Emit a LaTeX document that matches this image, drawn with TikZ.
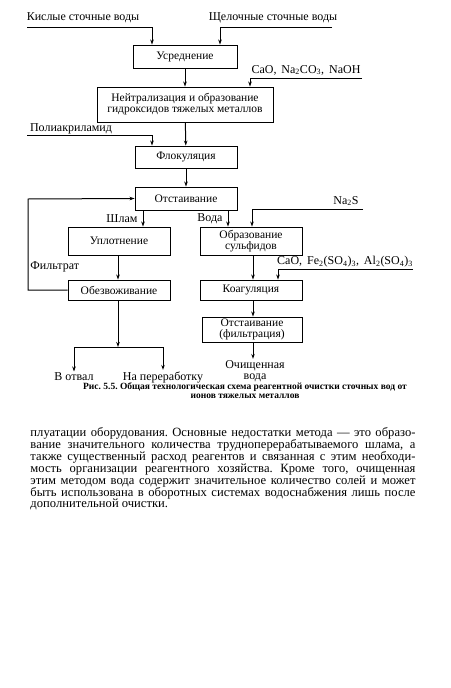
\documentclass[tikz,border=0pt]{standalone}
\usepackage{fontspec}
\setmainfont{Liberation Serif}
\usetikzlibrary{arrows.meta,positioning}
\frenchspacing

\begin{document}
\begin{tikzpicture}[x=1pt, y=-1pt, >={Stealth[length=5pt,width=3.5pt]}, line width=1pt]
    % Define styles
    \tikzstyle{stage} = [rectangle, draw=black, line width=0.9pt, inner sep=1pt, align=center, font=\fontsize{11.5}{11}\selectfont]
    \tikzstyle{feed} = [inner sep=1pt, font=\fontsize{12}{12}\selectfont]
    \tikzstyle{tag} = [inner sep=1pt, align=center, font=\fontsize{12}{11}\selectfont]

    \useasboundingbox (0,0) rectangle (450,688);

    % Nodes
    \node[stage, minimum width=104pt, minimum height=23pt] (usr) at (185,56.5) {Усреднение};
    \node[stage, minimum width=176pt, minimum height=35pt] (neutr) at (185,104.5) {Нейтрализация и образование\\гидроксидов тяжелых металлов};
    \node[stage, minimum width=102pt, minimum height=22pt] (floc) at (186,157) {Флокуляция};
    \node[stage, minimum width=102pt, minimum height=23pt] (otst) at (186,198.5) {Отстаивание};
    \node[stage, minimum width=102pt, minimum height=28pt] (uplot) at (119,241) {Уплотнение};
    \node[stage, minimum width=102pt, minimum height=28pt] (sulf) at (251,241) {Образование\\сульфидов};
    \node[stage, minimum width=102pt, minimum height=20pt] (obezv) at (119,290) {Обезвоживание};
    \node[stage, minimum width=102pt, minimum height=20pt] (koag) at (251,290) {Коагуляция};
    \node[stage, minimum width=100pt, minimum height=25pt] (otstf) at (252,329.5) {Отстаивание\\(фильтрация)};

    % Feed labels
    \node[feed] (acid) at (83,18) {Кислые сточные воды};
    \node[feed] (alkali) at (273,18) {Щелочные сточные воды};
    \node[feed] (reag) at (306,70) {CaO,\, Na\textsubscript{2}CO\textsubscript{3},\, NaOH};
    \node[feed] (paa) at (71,129) {Полиакриламид};
    \node[feed] (nas) at (346,201) {Na\textsubscript{2}S};
    \node[feed] (coag) at (345,262) {CaO,\, Fe\textsubscript{2}(SO\textsubscript{4})\textsubscript{3},\, Al\textsubscript{2}(SO\textsubscript{4})\textsubscript{3}};
    \node[tag, anchor=east] (sludge) at (139,219) {Шлам};
    \node[tag, anchor=east] (water) at (224,219) {Вода};
    \node[tag, anchor=west] (filtr) at (29,267) {Фильтрат};
    \node[tag] (dump) at (74,377) {В отвал};
    \node[tag] (recyc) at (163,377) {На переработку};
    \node[tag] (clean) at (255,371) {Очищенная\\вода};

    \coordinate (acidin) at (27,27);
    \coordinate (alkin) at (332,27);
    \coordinate (reagin) at (362,78);
    \coordinate (paain) at (27,135);
    \coordinate (nasin) at (363,209);
    \coordinate (coagin) at (413,269);
    \coordinate (split) at (118,347);
    \coordinate (back) at (28,199);

    % Connections
    \draw[->] (acidin) -| ([xshift=-33pt]usr.north);
    \draw[->] (alkin) -| ([xshift=35pt]usr.north);
    \draw[->] (usr) -- (neutr);
    \draw[->] (reagin) -| ([xshift=65pt]neutr.north);
    \draw[->] (neutr) -- (floc);
    \draw[->] (paain) -| ([xshift=-34pt]floc.north);
    \draw[->] (floc) -- (otst);
    \draw[->] ([xshift=-43pt]otst.south) -- ([xshift=-43pt]otst.south |- uplot.north);
    \draw[->] ([xshift=42pt]otst.south) -- ([xshift=42pt]otst.south |- sulf.north);
    \draw[->] (nasin) -| ([xshift=1pt]sulf.north);
    \draw[->] ([xshift=-1pt]uplot.south) -- ([xshift=-1pt]obezv.north);
    \draw[->] (obezv.west) -| (back) -- (otst.west);
    \draw[->] ([xshift=-1pt]obezv.south) -- (split);
    \draw[->] (split) -| (dump.north);
    \draw[->] (split) -| (recyc.north);
    \draw[->] ([xshift=2pt]sulf.south) -- ([xshift=2pt]koag.north);
    \draw[->] (coagin) -| ([xshift=27pt]koag.north);
    \draw[->] ([xshift=2pt]koag.south) -- ([xshift=1pt]otstf.north);
    \draw[->] ([xshift=1pt]otstf.south) -- ([xshift=1pt]otstf.south |- clean.north);

    % Caption and text
    \node[align=center, inner sep=0pt, font=\fontsize{9.5}{9}\selectfont\bfseries] (caption) at (245,391)
        {Рис. 5.5. Общая технологическая схема реагентной очистки сточных вод от\\ионов тяжелых металлов};
    \node[anchor=north west, align=left, inner sep=0pt, font=\fontsize{12.6}{11.9}\selectfont] (body) at (30,427)
        {\makebox[385pt][s]{плуатации оборудования. Основные недостатки метода — это образо-}\\
         \makebox[385pt][s]{вание значительного количества трудноперерабатываемого шлама, а}\\
         \makebox[385pt][s]{также существенный расход реагентов и связанная с этим необходи-}\\
         \makebox[385pt][s]{мость организации реагентного хозяйства. Кроме того, очищенная}\\
         \makebox[385pt][s]{этим методом вода содержит значительное количество солей и может}\\
         \makebox[385pt][s]{быть использована в оборотных системах водоснабжения лишь после}\\
         дополнительной очистки.};
\end{tikzpicture}
\end{document}
